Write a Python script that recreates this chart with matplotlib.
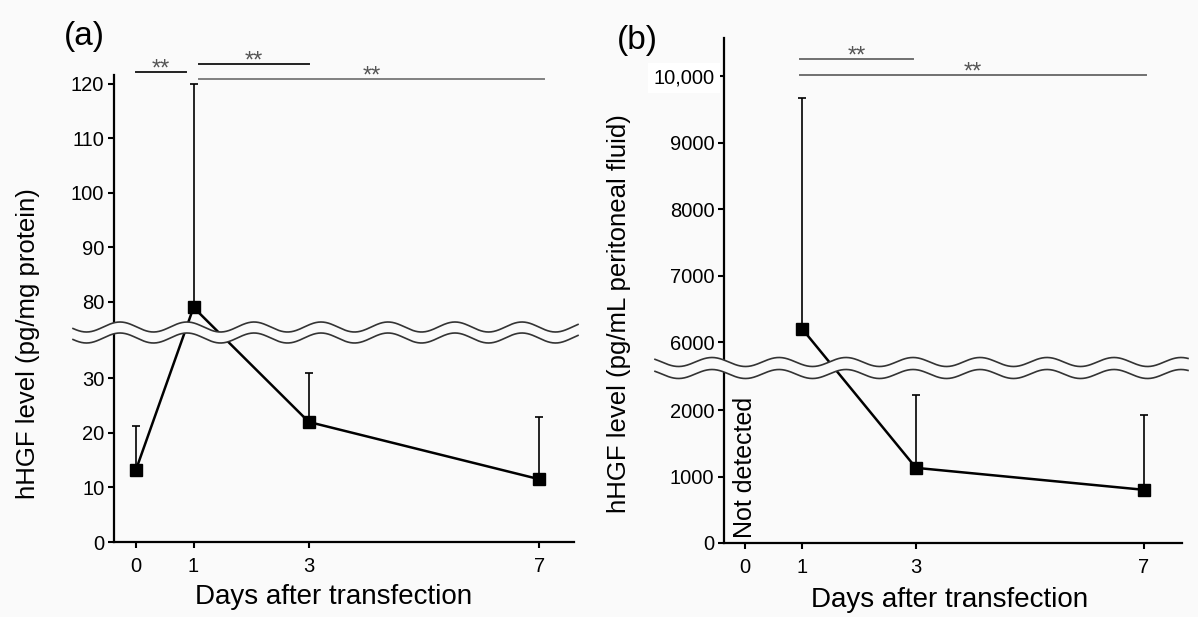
import numpy as np
import matplotlib
matplotlib.use('Agg')
import matplotlib.pyplot as plt
from matplotlib.lines import Line2D
from matplotlib.patches import Polygon

# ---------------- data ----------------
xticks = [0, 1, 3, 7]

days_a = [0, 1, 3, 7]
mean_a = [13.2, 79.0, 22.0, 11.5]
upper_a = [21.2, 120.0, 31.0, 23.0]
yticks_a = [0, 10, 20, 30, 80, 90, 100, 110, 120]

days_b = [1, 3, 7]
mean_b = [6200, 1130, 800]
upper_b = [9670, 2220, 1920]
yticks_b = [0, 1000, 2000, 6000, 7000, 8000, 9000, 10000]
yticklabels_b = ['0', '1000', '2000', '6000', '7000', '8000', '9000', '10,000']

# significance brackets (start day, end day, level)
sig_a_x0 = [0.0, 1.09, 1.09]
sig_a_x1 = [0.87, 3.0, 7.08]
sig_a_y = [122.2, 123.6, 120.9]
sig_a_col = ['#222222', '#222222', '#808080']

sig_b_x0 = [0.96, 0.96]
sig_b_x1 = [2.95, 7.03]
sig_b_y = [10255, 10015]
sig_b_col = ['#707070', '#707070']

W, H = 1198, 617
BG = '#fafafa'
plt.rcParams['font.family'] = ['Liberation Sans', 'DejaVu Sans']

fig = plt.figure(figsize=(W / 100, H / 100), dpi=100, facecolor=BG)


def make_scale(lo, hi, gap):
    def fwd(v):
        v = np.asarray(v, float)
        return np.where(v <= lo, v,
                        np.where(v >= hi, v - hi + lo + gap,
                                 lo + (v - lo) * gap / (hi - lo)))

    def inv(t):
        t = np.asarray(t, float)
        return np.where(t <= lo, t,
                        np.where(t >= lo + gap, t - gap - lo + hi,
                                 lo + (t - lo) * (hi - lo) / gap))
    return fwd, inv


def style_axes(ax):
    for s in ['top', 'right']:
        ax.spines[s].set_visible(False)
    for s in ['left', 'bottom']:
        ax.spines[s].set_linewidth(1.6)
        ax.spines[s].set_color('black')
    ax.patch.set_visible(False)
    ax.tick_params(axis='both', direction='out', length=4, width=1.5,
                   labelsize=14.5, colors='black')
    ax.tick_params(axis='y', pad=3)
    ax.tick_params(axis='x', pad=7)


def px2fig(x, y):
    return np.asarray(x) / W, 1 - np.asarray(y) / H


def wave(x0, x1, ytop, ybot, amp, period, crest):
    xs = np.linspace(x0, x1, 600)
    off = -amp * np.cos(2 * np.pi * (xs - crest) / period)
    yt = ytop + off
    yb = ybot + off
    fx, fyt = px2fig(xs, yt)
    _, fyb = px2fig(xs, yb)
    poly = np.column_stack([np.concatenate([fx, fx[::-1]]),
                            np.concatenate([fyt, fyb[::-1]])])
    fig.add_artist(Polygon(poly, closed=True, facecolor=BG, edgecolor='none',
                           transform=fig.transFigure, zorder=5))
    for fy in (fyt, fyb):
        fig.add_artist(Line2D(fx, fy, color='#333333', lw=1.2,
                              transform=fig.transFigure, zorder=6))


def sig_marks(ax, x0s, x1s, ys, cols):
    for x0, x1, y, c in zip(x0s, x1s, ys, cols):
        ax.plot([x0, x1], [y, y], color=c, lw=1.4, clip_on=False)
        ax.annotate('**', xy=((x0 + x1) / 2, y), xytext=(0, -2.5),
                    textcoords='offset points', ha='center', va='baseline',
                    fontsize=17, color='#555555', annotation_clip=False)


# ---------------- panel (a) ----------------
ax_a = fig.add_axes([114 / W, 1 - 542 / H, (574 - 114) / W, (542 - 75) / H])
fa, ia = make_scale(37.4, 75.4, 2.0)
ax_a.set_yscale('function', functions=(fa, ia))
ax_a.set_xlim(-0.38, 7.6)
ax_a.set_ylim(0, 121.6)
style_axes(ax_a)

ea = np.array(upper_a) - np.array(mean_a)
ax_a.errorbar(days_a, mean_a, yerr=[np.zeros(len(ea)), ea], fmt='none',
              ecolor='black', elinewidth=1.2, capsize=3, capthick=1.2, zorder=2)
ax_a.plot(days_a, mean_a, color='black', lw=1.8, marker='s', markersize=8.5,
          markerfacecolor='black', zorder=3)
ax_a.set_xticks(xticks)
ax_a.set_yticks(yticks_a)
ax_a.set_yticklabels([str(v) for v in yticks_a])
ax_a.set_ylabel('hHGF level (pg/mg protein)', fontsize=18.5)
ax_a.yaxis.set_label_coords(-0.161, 0.424)
ax_a.set_xlabel('Days after transfection', fontsize=20)
ax_a.xaxis.set_label_coords(0.478, -0.09)
sig_marks(ax_a, sig_a_x0, sig_a_x1, sig_a_y, sig_a_col)

# ---------------- panel (b) ----------------
ax_b = fig.add_axes([724 / W, 1 - 543 / H, (1182 - 724) / W, (543 - 38) / H])
fb, ib = make_scale(2550, 5700, 172)
ax_b.set_yscale('function', functions=(fb, ib))
ax_b.set_xlim(-0.37, 7.67)
ax_b.set_ylim(0, 10572)
style_axes(ax_b)

eb = np.array(upper_b) - np.array(mean_b)
ax_b.errorbar(days_b, mean_b, yerr=[np.zeros(len(eb)), eb], fmt='none',
              ecolor='black', elinewidth=1.2, capsize=3, capthick=1.2, zorder=2)
ax_b.plot(days_b, mean_b, color='black', lw=1.8, marker='s', markersize=8.5,
          markerfacecolor='black', zorder=3)
ax_b.set_xticks(xticks)
ax_b.set_yticks(yticks_b)
ax_b.set_yticklabels(yticklabels_b)
ax_b.get_yticklabels()[-1].set_bbox(dict(facecolor='white', edgecolor='none', pad=4))
ax_b.set_ylabel('hHGF level (pg/mL peritoneal fluid)', fontsize=18.5)
ax_b.yaxis.set_label_coords(-0.203, 0.455)
ax_b.set_xlabel('Days after transfection', fontsize=20)
ax_b.xaxis.set_label_coords(0.493, -0.087)
ax_b.text(0, 80, 'Not detected', rotation=90, ha='center', va='bottom',
          fontsize=18, color='black')
sig_marks(ax_b, sig_b_x0, sig_b_x1, sig_b_y, sig_b_col)

# ---------------- break marks ----------------
wave(73, 578, 327, 338, 5, 67, 120)
wave(655, 1188, 362, 374, 4.5, 67, 913)

# panel labels
fig.text(84 / W, 1 - 36 / H, '(a)', fontsize=24, ha='center', va='center')
fig.text(637 / W, 1 - 40 / H, '(b)', fontsize=24, ha='center', va='center')

fig.savefig('out.png', dpi=100, facecolor=BG)
